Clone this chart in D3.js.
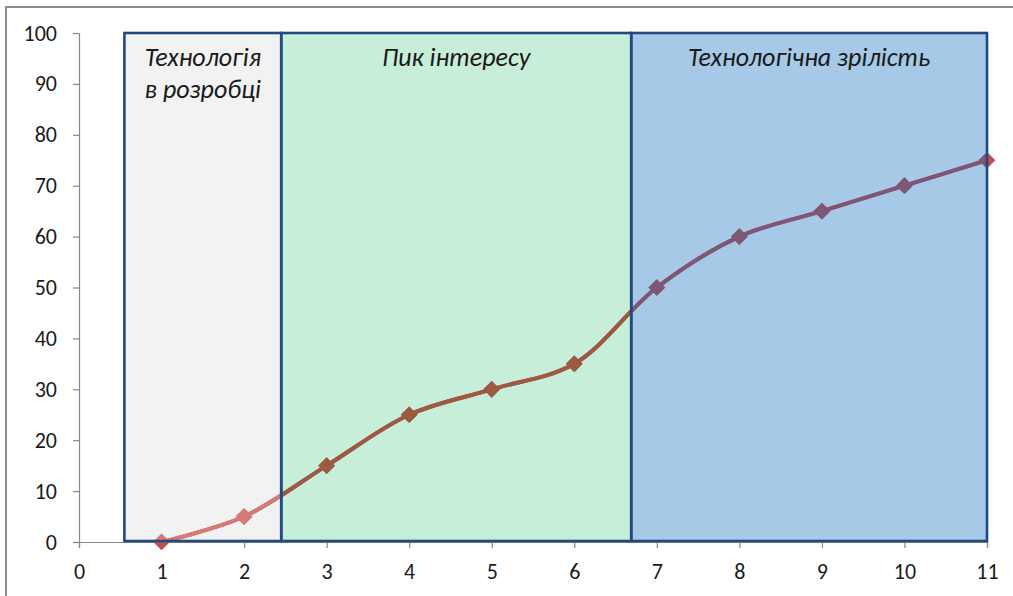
<!DOCTYPE html>
<html><head><meta charset="utf-8">
<script src="https://cdn.jsdelivr.net/npm/d3@7"></script>
<style>body{margin:0;background:#fff}svg{display:block}</style>
</head><body>
<svg id="c" width="1013" height="596"></svg>
<script>
const xs = [1,2,3,4,5,6,7,8,9,10,11];
const ys = [0,5,15,25,30,35,50,60,65,70,75];
const xTicks = [0,1,2,3,4,5,6,7,8,9,10,11];
const yTicks = [0,10,20,30,40,50,60,70,80,90,100];
const regionNames = [["Технологія","в розробці"],["Пик інтересу"],["Технологічна зрілість"]];
const regionStart = [0.55, 2.45, 6.69];
const regionEnd = [2.45, 6.69, 11];
const regionFill = ["#f2f2f2","#c6eed8","#a5c9e7"];
const regionLine = ["#d47a77","#9b5a42","#7d5876"];
const baseLine = "#c0504d";

const svg = d3.select("#c");
const x = d3.scaleLinear().domain([0,11]).range([79,987]);
const y = d3.scaleLinear().domain([0,100]).range([542,33]);
const font = "Carlito, Lato, 'Open Sans', sans-serif";

// outer border
svg.append("path").attr("d","M6,600 L6,7 L1020,7").attr("fill","none").attr("stroke","#8c8c8c").attr("stroke-width",2);

// region fills
const regions = d3.range(regionStart.length);
svg.selectAll("rect.fill").data(regions).join("rect").attr("class","fill")
  .attr("x",i=>x(regionStart[i])).attr("y",y(100))
  .attr("width",i=>x(regionEnd[i])-x(regionStart[i])).attr("height",y(0)-1-y(100))
  .attr("fill",i=>regionFill[i]);

// axes
const gy = svg.append("g").attr("transform","translate(79,0)")
  .call(d3.axisLeft(y).tickValues(yTicks).tickSize(6).tickPadding(16));
const gx = svg.append("g").attr("transform",`translate(0,${y(0)})`)
  .call(d3.axisBottom(x).tickValues(xTicks).tickSize(6).tickPadding(15));
[gy,gx].forEach(g=>{
  g.attr("font-size",null);
  g.select(".domain").attr("stroke","#868686").attr("stroke-width",1.2);
  g.selectAll(".tick line").attr("stroke","#868686").attr("stroke-width",1.2);
  g.selectAll("text").attr("font-family",font).style("font-size","22px").attr("fill","#1a1a1a");
});
gx.selectAll("text").attr("dy","0.71em");

// clip paths
const defs = svg.append("defs");
regions.forEach(i=>{
  defs.append("clipPath").attr("id","cl"+i).append("rect")
    .attr("x",x(regionStart[i])).attr("y",y(100))
    .attr("width",x(regionEnd[i])-x(regionStart[i])).attr("height",y(0)-1-y(100));
});
const line = d3.line().x((d,i)=>x(xs[i])).y(d=>y(d)).curve(d3.curveCatmullRom.alpha(0.5));
const sym = d3.symbol(d3.symbolSquare, 140);
function drawSeries(g,color){
  g.append("path").attr("d",line(ys)).attr("fill","none").attr("stroke",color).attr("stroke-width",4);
  g.selectAll("path.m").data(ys).join("path").attr("class","m")
    .attr("d",sym).attr("fill",color)
    .attr("transform",(d,i)=>`translate(${x(xs[i])},${y(d)}) rotate(45)`);
}
drawSeries(svg.append("g"), baseLine);
regions.forEach(i=>drawSeries(svg.append("g").attr("clip-path",`url(#cl${i})`), regionLine[i]));

// region borders
svg.selectAll("rect.brd").data(regions).join("rect").attr("class","brd")
  .attr("x",i=>x(regionStart[i])).attr("y",y(100))
  .attr("width",i=>x(regionEnd[i])-x(regionStart[i])).attr("height",y(0)-1-y(100))
  .attr("fill","none").attr("stroke","#214a80").attr("stroke-width",2.6);

// region titles
regions.forEach(i=>{
  const cx = (x(regionStart[i])+x(regionEnd[i]))/2;
  regionNames[i].forEach((t,k)=>{
    svg.append("text").attr("x",cx).attr("y",66+k*32).attr("text-anchor","middle")
      .attr("font-family",font).attr("font-style","italic").attr("font-size",26)
      .attr("fill","#1a1a1a").text(t);
  });
});
</script>
</body></html>
